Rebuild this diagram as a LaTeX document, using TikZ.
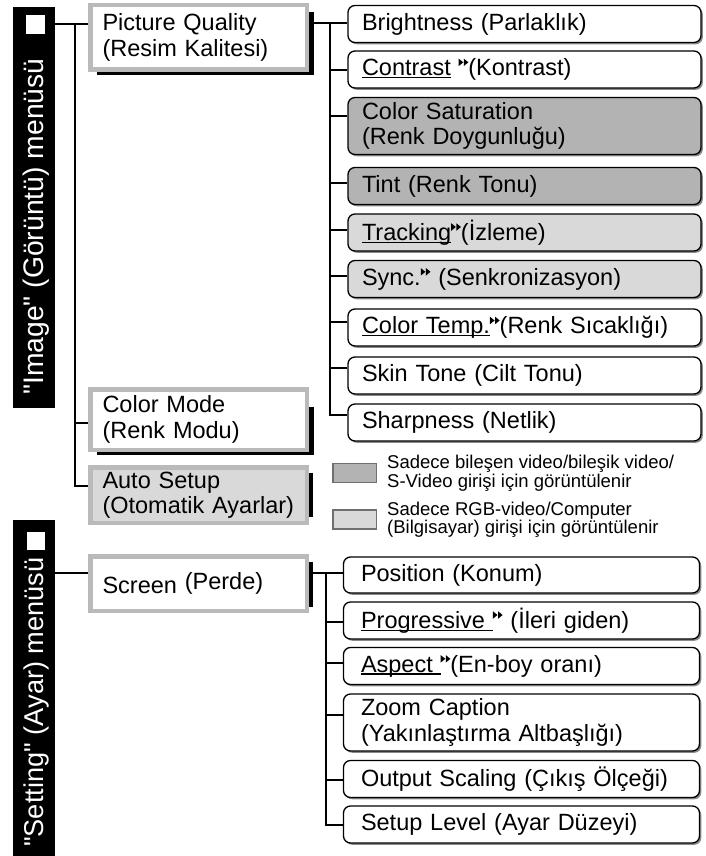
\documentclass[tikz,border=0pt]{standalone}
\usepackage{fontspec}
\setmainfont{Liberation Sans}
\newfontfamily\barfont{Liberation Sans}[Ligatures=TeXOff]
\usetikzlibrary{shadows,backgrounds}
\definecolor{darkfill}{HTML}{B3B3B3}
\definecolor{lightfill}{HTML}{D9D9D9}
\definecolor{framegray}{HTML}{BABABA}
\definecolor{shadowgray}{HTML}{8A8A8A}
\definecolor{swatchline}{HTML}{707070}
\newcommand\fm{\fontsize{23.5}{25.5}\selectfont}
\newcommand\flg{\fontsize{18.5}{18.5}\selectfont}
\newcommand\dtri{\begin{pgfpicture}\pgfsetbaseline{0pt}\pgfsetcornersarced{\pgfpointorigin}\pgfsetfillcolor{black}%
\pgfpathmoveto{\pgfqpoint{0.3pt}{9.5pt}}\pgfpathlineto{\pgfqpoint{0.3pt}{17pt}}\pgfpathlineto{\pgfqpoint{4.9pt}{13.25pt}}\pgfpathclose
\pgfpathmoveto{\pgfqpoint{5.4pt}{9.5pt}}\pgfpathlineto{\pgfqpoint{5.4pt}{17pt}}\pgfpathlineto{\pgfqpoint{10pt}{13.25pt}}\pgfpathclose
\pgfusepath{fill}\end{pgfpicture}}
\newsavebox\ulbox
\newcommand\ulx[1]{\sbox\ulbox{#1}\rlap{\rule[-2.6pt]{\wd\ulbox}{1.3pt}}\usebox\ulbox}
\begin{document}
\begin{tikzpicture}[x=1pt,y=-1pt,
  lone/.style={draw=framegray, line width=4.5pt, fill=white, minimum width=216.5pt, text width=192pt, align=left, inner sep=0pt, font=\fm},
  leaf/.style={draw=black, line width=1.3pt, rounded corners=7pt, fill=white, drop shadow={shadow xshift=1.8pt, shadow yshift=-1.8pt, fill=shadowgray, opacity=1}, text width=325pt, align=left, inner sep=0pt, minimum width=353pt, minimum height=37pt, font=\fm},
  leafb/.style={leaf, minimum width=356pt, text width=321pt},
  conn/.style={line width=1.4pt},
  bar/.style={fill=black, inner sep=0pt, minimum width=42pt},
  wsq/.style={fill=white, inner sep=0pt, minimum size=18.5pt},
  bartxt/.style={rotate=90, anchor=base west, text=white, inner sep=0pt},
  swatch/.style={draw=swatchline, line width=1.5pt, minimum width=43.5pt, minimum height=19pt, inner sep=0pt},
  lgtxt/.style={anchor=base west, inner sep=0pt, font=\flg}]

\useasboundingbox (0,0) rectangle (705,856);

% menu bars
\node[bar, minimum height=401pt] (imbar) at (34,207.5) {};
\node[wsq] (imsq) at (35.5,24.5) {};
\node[bartxt, font=\barfont\fontsize{28.3}{30}\selectfont] (imtxt) at (43,395) {"Image" (Görüntü) menüsü};
\node[bar, minimum height=336pt] (sebar) at (34,688) {};
\node[wsq] (sesq) at (36,541) {};
\node[bartxt, font=\barfont\fontsize{27.2}{29}\selectfont] (setxt) at (43,847) {"Setting" (Ayar) menüsü};

% level 1
\node[lone, minimum height=64.5pt] (pq) at (198.5,37.5) {Picture Quality\\(Resim Kalitesi)};
\node[lone, minimum height=60.5pt] (cm) at (198.5,419.5) {Color Mode\\(Renk Modu)};
\node[lone, fill=lightfill, minimum height=55.5pt] (as) at (198.5,495) {Auto Setup\\(Otomatik Ayarlar)};
\node[lone, minimum height=54.5pt] (sc) at (198.5,583.5) {Screen \raisebox{4pt}{(Perde)}};

\begin{scope}[on background layer]
\fill ([xshift=9pt,yshift=-9pt]pq.north west) rectangle ([xshift=5pt,yshift=-3pt]pq.south east);
\fill ([xshift=9pt,yshift=-20pt]cm.north west) rectangle ([xshift=5pt,yshift=-3pt]cm.south east);
\fill ([xshift=-4pt,yshift=-8pt]as.north east) rectangle ([xshift=4pt,yshift=8pt]as.south east);
\fill ([xshift=-4pt,yshift=-8pt]sc.north east) rectangle ([xshift=4pt,yshift=6pt]sc.south east);
\end{scope}

% group 1
\node[leaf] (br) at (524.5,24) {Brightness (Parlaklık)};
\node[leaf] (co) at (524.5,69.5) {\ulx{Contrast} \dtri(Kontrast)};
\node[leaf, fill=darkfill, minimum height=57pt] (cs) at (524.5,126) {Color Saturation\\(Renk Doygunluğu)};
\node[leaf, fill=darkfill] (ti) at (524.5,186) {Tint (Renk Tonu)};
\node[leaf, fill=lightfill] (tr) at (524.5,232.5) {\ulx{Tracking}\dtri(İzleme)};
\node[leaf, fill=lightfill] (sy) at (524.5,279) {Sync.\dtri\ (Senkronizasyon)};
\node[leaf] (ct) at (524.5,327.5) {\ulx{Color Temp.}\dtri(Renk Sıcaklığı)};
\node[leaf] (sk) at (524.5,375.5) {Skin Tone (Cilt Tonu)};
\node[leaf] (sh) at (524.5,422.5) {Sharpness (Netlik)};

% group 2
\node[leafb, minimum height=36pt] (po) at (521.5,575) {Position (Konum)};
\node[leafb] (pr) at (521.5,620.5) {\ulx{Progressive\ }\dtri\ (İleri giden)};
\node[leafb] (asp) at (521.5,666) {\ulx{Aspect\ }\dtri(En-boy oranı)};
\node[leafb, minimum height=57pt] (zc) at (521.5,722.5) {Zoom Caption\\(Yakınlaştırma Altbaşlığı)};
\node[leafb] (os) at (521.5,779) {Output Scaling (Çıkış Ölçeği)};
\node[leafb] (sl) at (521.5,824.5) {Setup Level (Ayar Düzeyi)};

% legend
\node[swatch, fill=darkfill] (lg1) at (354.5,473) {};
\node[swatch, fill=lightfill] (lg2) at (354.5,519.5) {};
\node[lgtxt] (lt1a) at (387,468) {Sadece bileşen video/bileşik video/};
\node[lgtxt] (lt1b) at (387,487) {S-Video girişi için görüntülenir};
\node[lgtxt] (lt2a) at (387,515) {Sadece RGB-video/Computer};
\node[lgtxt] (lt2b) at (387,533) {(Bilgisayar) girişi için görüntülenir};

% connectors level 0 -> 1
\coordinate (j0) at (75,24);
\coordinate (jcm) at (75,423);
\coordinate (jas) at (75,486);
\draw[conn] (imbar.east |- j0) -- (pq.west |- j0);
\draw[conn] (j0) -- (jas) -- (jas -| as.west);
\draw[conn] (jcm) -- (jcm -| cm.west);
\coordinate (js) at (75,573);
\draw[conn] (sebar.east |- js) -- (sc.west |- js);

% connectors group 1
\coordinate (k0) at (330,23);
\coordinate (k1) at (330,70);
\coordinate (k2) at (330,116);
\coordinate (k3) at (330,183);
\coordinate (k4) at (330,230);
\coordinate (k5) at (330,276);
\coordinate (k6) at (330,322);
\coordinate (k7) at (330,368);
\coordinate (k8) at (330,415);
\draw[conn] (pq.east |- k0) -- (k0 -| br.west);
\draw[conn] (k0) -- (k8) -- (k8 -| sh.west);
\draw[conn] (k1) -- (k1 -| co.west);
\draw[conn] (k2) -- (k2 -| cs.west);
\draw[conn] (k3) -- (k3 -| ti.west);
\draw[conn] (k4) -- (k4 -| tr.west);
\draw[conn] (k5) -- (k5 -| sy.west);
\draw[conn] (k6) -- (k6 -| ct.west);
\draw[conn] (k7) -- (k7 -| sk.west);

% connectors group 2
\coordinate (m0) at (326,573);
\coordinate (m1) at (326,622);
\coordinate (m2) at (326,663);
\coordinate (m3) at (326,715);
\coordinate (m4) at (326,780);
\coordinate (m5) at (326,825);
\draw[conn] (sc.east |- m0) -- (m0 -| po.west);
\draw[conn] (m0) -- (m5) -- (m5 -| sl.west);
\draw[conn] (m1) -- (m1 -| pr.west);
\draw[conn] (m2) -- (m2 -| asp.west);
\draw[conn] (m3) -- (m3 -| zc.west);
\draw[conn] (m4) -- (m4 -| os.west);
\end{tikzpicture}
\end{document}
